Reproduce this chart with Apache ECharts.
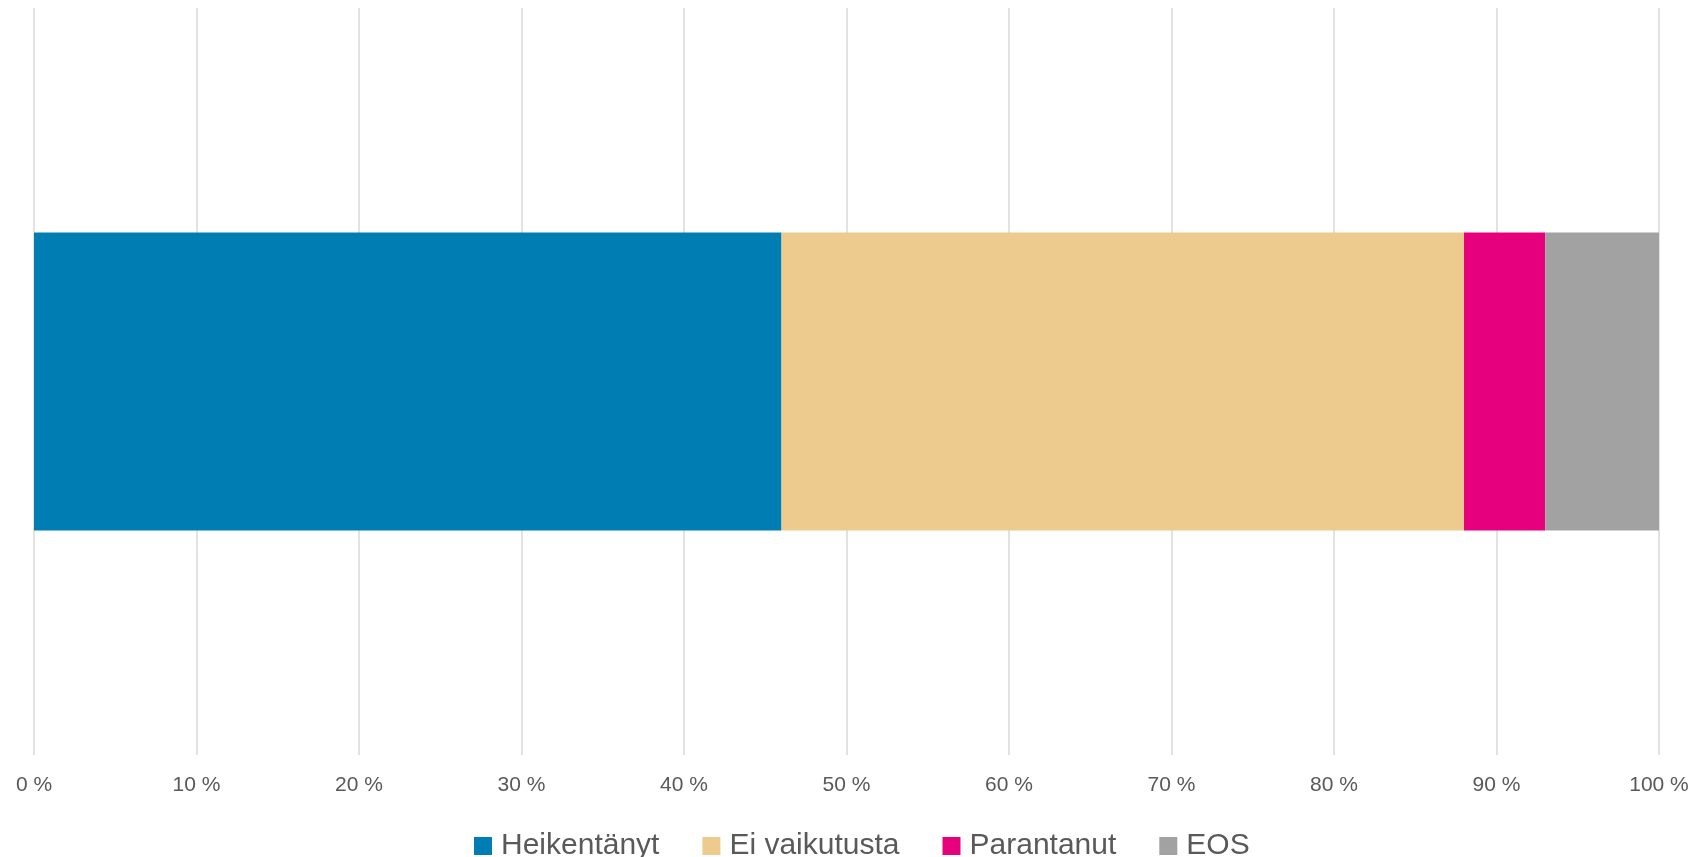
<!DOCTYPE html>
<html>
<head>
<meta charset="utf-8">
<script src="https://cdn.jsdelivr.net/npm/echarts@6/dist/echarts.min.js"></script>
<style>
html,body{margin:0;padding:0;background:#fff;}
#chart{width:1694px;height:857px;}
</style>
</head>
<body>
<div id="chart"></div>
<script>
const categories = [''];
const seriesNames = ['Heikentänyt', 'Ei vaikutusta', 'Parantanut', 'EOS'];
const heikentanyt = [46];
const eiVaikutusta = [42];
const parantanut = [5];
const eos = [7];
const seriesColors = ['#007DB3', '#EDCA8D', '#E6007E', '#A2A2A2'];

const values = [heikentanyt, eiVaikutusta, parantanut, eos];
const chart = echarts.init(document.getElementById('chart'));
chart.setOption({
  animation: false,
  backgroundColor: '#fff',
  grid: { left: 34, right: 35, top: 8, bottom: 102, containLabel: false },
  legend: {
    left: 469, top: 826,
    itemWidth: 18, itemHeight: 18, itemGap: 43,
    icon: 'rect',
    textStyle: { fontFamily: 'Liberation Sans', fontSize: 30, color: '#595959', padding: [0, 0, 0, 4] },
    data: seriesNames
  },
  xAxis: {
    type: 'value', min: 0, max: 100, interval: 10,
    axisLine: { show: false }, axisTick: { show: false },
    splitLine: { show: true, lineStyle: { color: '#d9d9d9', width: 1.5 } },
    axisLabel: { formatter: v => v + ' %', fontFamily: 'Liberation Sans', fontSize: 21, color: '#595959', margin: 20 }
  },
  yAxis: {
    type: 'category', data: categories,
    axisLine: { show: false }, axisTick: { show: false }, axisLabel: { show: false }
  },
  series: seriesNames.map((name, i) => ({
    name, type: 'bar', stack: 'total', barWidth: 298,
    itemStyle: { color: seriesColors[i] },
    data: values[i]
  }))
});
</script>
</body>
</html>
